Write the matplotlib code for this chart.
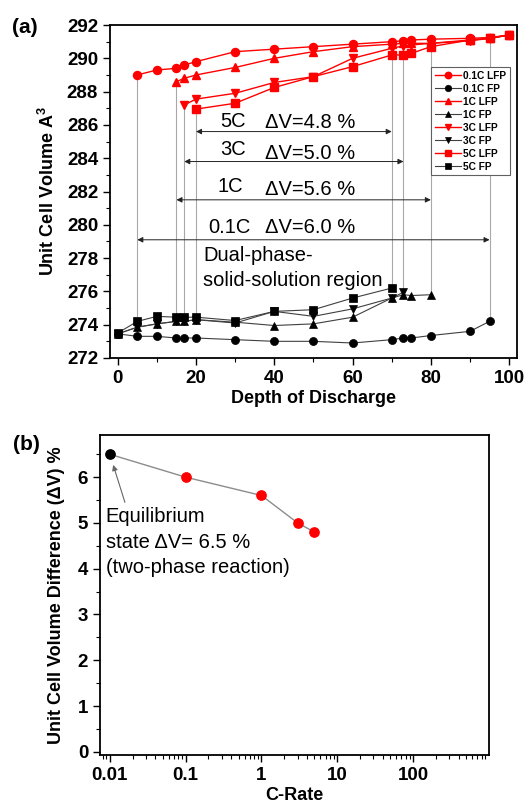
import matplotlib
matplotlib.use("Agg")
import matplotlib.pyplot as plt
import numpy as np
from matplotlib.ticker import MultipleLocator, LogLocator, NullFormatter

plt.rcParams['font.family'] = ['Liberation Sans', 'DejaVu Sans']
plt.rcParams['mathtext.fontset'] = 'custom'
plt.rcParams['mathtext.rm'] = 'Liberation Sans'
plt.rcParams['mathtext.bf'] = 'Liberation Sans:bold'

# (a) unit cell volume vs depth of discharge
dod_01_lfp = [5, 10, 15, 17, 20, 30, 40, 50, 60, 70, 73, 75, 80, 90, 95, 100]
vol_01_lfp = [289.0, 289.3, 289.4, 289.6, 289.8, 290.4, 290.55, 290.7, 290.85, 291.0, 291.05, 291.1, 291.15, 291.2, 291.25, 291.4]
dod_01_fp = [0, 5, 10, 15, 17, 20, 30, 40, 50, 60, 70, 73, 75, 80, 90, 95]
vol_01_fp = [273.45, 273.3, 273.3, 273.2, 273.2, 273.2, 273.1, 273.0, 273.0, 272.9, 273.1, 273.2, 273.2, 273.35, 273.6, 274.2]

dod_1_lfp = [15, 17, 20, 30, 40, 50, 60, 70, 73, 75, 80, 90, 95, 100]
vol_1_lfp = [288.6, 288.8, 289.0, 289.45, 290.0, 290.4, 290.7, 290.85, 290.9, 290.9, 290.9, 291.1, 291.2, 291.4]
dod_1_fp = [0, 5, 10, 15, 17, 20, 30, 40, 50, 60, 70, 73, 75, 80]
vol_1_fp = [273.45, 273.85, 274.05, 274.2, 274.2, 274.3, 274.15, 273.95, 274.05, 274.45, 275.6, 275.8, 275.75, 275.8]

dod_3_lfp = [17, 20, 30, 40, 50, 60, 70, 73, 75, 80, 90, 95, 100]
vol_3_lfp = [287.2, 287.55, 287.9, 288.55, 288.9, 290.0, 290.6, 290.75, 290.8, 290.9, 291.05, 291.2, 291.4]
dod_3_fp = [0, 5, 10, 15, 17, 20, 30, 40, 50, 60, 70, 73]
vol_3_fp = [273.45, 273.85, 274.05, 274.2, 274.2, 274.3, 274.1, 274.8, 274.5, 274.95, 275.6, 275.95]

dod_5_lfp = [20, 30, 40, 50, 60, 70, 73, 75, 80, 90, 95, 100]
vol_5_lfp = [286.95, 287.3, 288.25, 288.9, 289.5, 290.2, 290.2, 290.3, 290.7, 291.1, 291.2, 291.4]
dod_5_fp = [0, 5, 10, 15, 17, 20, 30, 40, 50, 60, 70]
vol_5_fp = [273.5, 274.2, 274.5, 274.45, 274.45, 274.45, 274.25, 274.8, 274.9, 275.6, 276.2]

rates = ["0.1C", "1C", "3C", "5C"]
region_start = [5, 15, 17, 20]
region_end = [95, 80, 73, 70]
delta_v = [6.0, 5.6, 5.0, 4.8]
arrow_level = [279.1, 281.5, 283.8, 285.6]

# (b) volume difference vs C-rate
c_rate = [0.01, 0.1, 1, 3, 5]
dv_pct = [6.5, 6.0, 5.6, 5.0, 4.8]

fig = plt.figure(figsize=(5.26, 8.07), dpi=100)
ax1 = fig.add_axes([0.209, 0.5564, 0.7738, 0.4126])
ax2 = fig.add_axes([0.190, 0.0644, 0.7395, 0.3965])

lfp = [(dod_01_lfp, vol_01_lfp), (dod_1_lfp, vol_1_lfp), (dod_3_lfp, vol_3_lfp), (dod_5_lfp, vol_5_lfp)]
fp = [(dod_01_fp, vol_01_fp), (dod_1_fp, vol_1_fp), (dod_3_fp, vol_3_fp), (dod_5_fp, vol_5_fp)]
markers = ["o", "^", "v", "s"]

# gray boundary lines of the dual-phase region
for i in range(len(rates)):
    for xb in (region_start[i], region_end[i]):
        top = np.interp(xb, *lfp[i])
        bot = np.interp(xb, *fp[i])
        ax1.vlines(xb, bot, top, color="#a8a8a8", lw=0.8, zorder=1)

for i, r in enumerate(rates):
    ax1.plot(*lfp[i], color="red", marker=markers[i], ms=5.8, lw=1.0,
             label=f"{r} LFP", zorder=4)
    ax1.plot(*fp[i], color="#404040", marker=markers[i], ms=5.8, lw=0.8,
             mfc="black", mec="black", markeredgewidth=0.5, label=f"{r} FP", zorder=3)

# double arrows with the volume change labels
rate_x = [23, 25.4, 26.3, 26.3]
rate_dy = [0.75, 0.8, 0.7, 0.6]
dv_dy = [0.75, 0.6, 0.5, 0.55]
for i, r in enumerate(rates):
    ax1.annotate("", xy=(region_start[i], arrow_level[i]), xytext=(region_end[i], arrow_level[i]),
                 arrowprops=dict(arrowstyle="<|-|>", color="#222222", lw=0.7,
                                 mutation_scale=8, shrinkA=0, shrinkB=0), zorder=2)
    ax1.text(rate_x[i], arrow_level[i] + rate_dy[i], r, fontsize=14.5, va="center", ha="left")
    ax1.text(37.7, arrow_level[i] + dv_dy[i], f"\u0394V={delta_v[i]:.1f} %", fontsize=14.5,
             va="center", ha="left")

ax1.text(21.8, 277.4, "Dual-phase-\nsolid-solution region", fontsize=14.5, va="center",
         ha="left", linespacing=1.45)

ax1.set_xlim(-2, 102)
ax1.set_ylim(272, 292)
ax1.xaxis.set_major_locator(MultipleLocator(20))
ax1.xaxis.set_minor_locator(MultipleLocator(10))
ax1.yaxis.set_major_locator(MultipleLocator(2))
ax1.yaxis.set_minor_locator(MultipleLocator(1))
ax1.set_xlabel("Depth of Discharge", fontsize=13, fontweight="bold", labelpad=2)
ax1.set_ylabel(r"Unit Cell Volume A$^\mathbf{3}$", fontsize=13, fontweight="bold")
ax1.yaxis.set_label_coords(-0.128, 0.5)

leg = ax1.legend(loc="upper right", bbox_to_anchor=(0.995, 0.889),
                 prop={"weight": "bold", "size": 7.3}, handlelength=2.6, handletextpad=0.2,
                 labelspacing=0.3, borderpad=0.35, fancybox=False, framealpha=1,
                 edgecolor="#606060", markerscale=0.8)
leg.get_frame().set_linewidth(0.8)

# (b)
ax2.plot(c_rate, dv_pct, color="#8c8c8c", lw=1.0, zorder=2)
ax2.scatter(c_rate[:1], dv_pct[:1], color="black", s=45, zorder=3)
ax2.scatter(c_rate[1:], dv_pct[1:], color="red", s=45, zorder=3)
ax2.annotate("", xy=(c_rate[0], dv_pct[0]), xytext=(0.0158, 5.45),
             arrowprops=dict(arrowstyle="-|>", color="#666666", lw=0.8, mutation_scale=8,
                             shrinkA=0, shrinkB=8), zorder=2)
ax2.text(0.00886, 4.58, "Equilibrium\nstate \u0394V= 6.5 %\n(two-phase reaction)",
         fontsize=14.5, va="center", ha="left", linespacing=1.45)

ax2.set_xscale("log")
ax2.set_xlim(0.0074, 1000)
ax2.set_ylim(-0.07, 6.92)
ax2.set_xticks([0.01, 0.1, 1, 10, 100])
ax2.set_xticklabels(["0.01", "0.1", "1", "10", "100"])
ax2.xaxis.set_minor_locator(LogLocator(base=10, subs=np.arange(2, 10), numticks=20))
ax2.xaxis.set_minor_formatter(NullFormatter())
ax2.yaxis.set_major_locator(MultipleLocator(1))
ax2.yaxis.set_minor_locator(MultipleLocator(0.5))
ax2.set_xlabel("C-Rate", fontsize=13, fontweight="bold", labelpad=2)
ax2.set_ylabel("Unit Cell Volume Difference (\u0394V) %", fontsize=13, fontweight="bold")
ax2.yaxis.set_label_coords(-0.09, 0.5)

for ax in (ax1, ax2):
    for s in ax.spines.values():
        s.set_linewidth(1.3)
    ax.tick_params(which="major", direction="out", length=5, width=1.0, labelsize=13.5)
    ax.tick_params(which="minor", direction="out", length=3, width=0.8)
    for lab in ax.get_xticklabels() + ax.get_yticklabels():
        lab.set_fontweight("bold")

fig.text(0.022, 0.966, "(a)", fontsize=15, fontweight="bold", va="center", ha="left")
fig.text(0.024, 0.449, "(b)", fontsize=15, fontweight="bold", va="center", ha="left")

fig.savefig("out.png", dpi=100)
